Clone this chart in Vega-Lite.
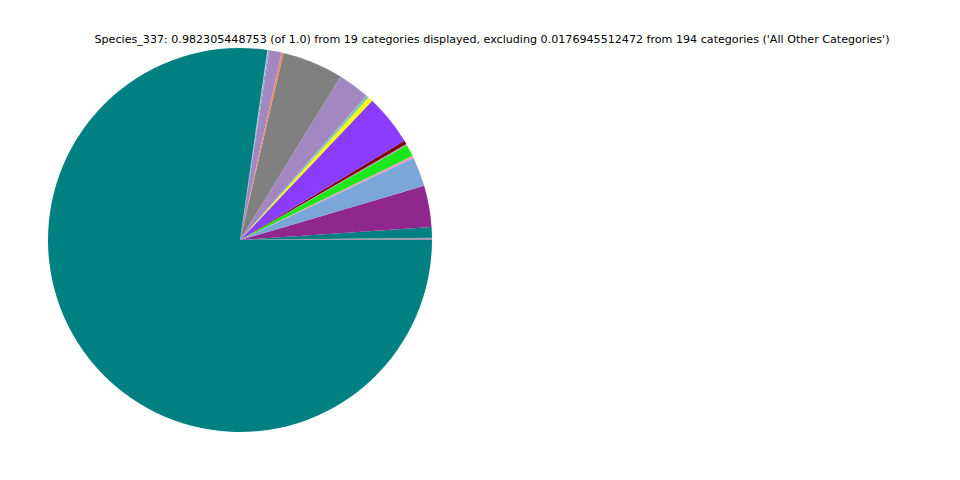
{
  "$schema": "https://vega.github.io/schema/vega-lite/v6.json",
  "width": 480,
  "height": 480,
  "padding": {"left": 0, "top": 0, "right": 480, "bottom": 0},
  "autosize": {"type": "none"},
  "background": "white",
  "view": {"stroke": null},
  "title": {
    "text": "Species_337: 0.982305448753 (of 1.0) from 19 categories displayed, excluding 0.0176945512472 from 194 categories ('All Other Categories')",
    "font": "DejaVu Sans",
    "fontSize": 11.12,
    "fontWeight": "normal",
    "color": "black",
    "anchor": "middle",
    "baseline": "alphabetic",
    "offset": 0,
    "dx": 252,
    "dy": 54
  },
  "data": {
    "values": [
      {"order": 1, "cat": "c01", "deg": 0.7},
      {"order": 2, "cat": "c02", "deg": 3.2},
      {"order": 3, "cat": "c03", "deg": 12.5},
      {"order": 4, "cat": "c04", "deg": 8.9},
      {"order": 5, "cat": "c05", "deg": 0.7},
      {"order": 6, "cat": "c06", "deg": 3.6},
      {"order": 7, "cat": "c07", "deg": 0.4},
      {"order": 8, "cat": "c08", "deg": 1.1},
      {"order": 9, "cat": "c09", "deg": 15.4},
      {"order": 10, "cat": "c10", "deg": 1.5},
      {"order": 11, "cat": "c11", "deg": 0.3},
      {"order": 12, "cat": "c12", "deg": 0.5},
      {"order": 13, "cat": "c13", "deg": 9.6},
      {"order": 14, "cat": "c14", "deg": 18.5},
      {"order": 15, "cat": "c15", "deg": 0.6},
      {"order": 16, "cat": "c16", "deg": 3.7},
      {"order": 17, "cat": "c17", "deg": 0.4},
      {"order": 18, "cat": "c18", "deg": 0.2},
      {"order": 19, "cat": "c19", "deg": 278.2}
    ]
  },
  "mark": {"type": "arc", "outerRadius": 192, "stroke": null},
  "encoding": {
    "theta": {
      "field": "deg",
      "type": "quantitative",
      "stack": true,
      "scale": {"domain": [0, 360], "range": [1.5707963, -4.712389]}
    },
    "order": {"field": "order", "type": "quantitative", "sort": "ascending"},
    "color": {
      "field": "cat",
      "type": "nominal",
      "legend": null,
      "scale": {
        "domain": ["c01","c02","c03","c04","c05","c06","c07","c08","c09","c10","c11","c12","c13","c14","c15","c16","c17","c18","c19"],
        "range": ["#A09AAE","#008080","#8F278C","#7BA7D8","#E99ABF","#1AE81A","#A0A0A0","#800000","#8B3DFF","#FFFF00","#3FA9F5","#80C8A0","#A387C0","#808080","#F4845F","#A387C0","#7BA7D8","#C0C0C0","#008080"]
      }
    }
  }
}
